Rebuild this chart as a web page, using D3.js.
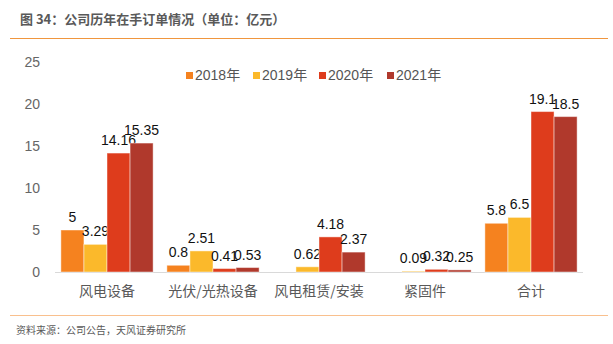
<!DOCTYPE html>
<html><head><meta charset="utf-8">
<script src="https://cdn.jsdelivr.net/npm/d3@7"></script>
<style>
body{margin:0;background:#fff;}
svg{display:block;}
</style></head>
<body>
<svg id="c" width="613" height="344"></svg>
<script>
const categories = ["风电设备","光伏/光热设备","风电租赁/安装","紧固件","合计"];
const seriesNames = ["2018年","2019年","2020年","2021年"];
const s2018 = [5, 0.8, null, null, 5.8];
const s2019 = [3.29, 2.51, 0.62, 0.09, 6.5];
const s2020 = [14.16, 0.41, 4.18, 0.32, 19.1];
const s2021 = [15.35, 0.53, 2.37, 0.25, 18.5];
const yTicks = [0,5,10,15,20,25];
const colors = ["#F5821F","#FBB92B","#DE3C1C","#B0392C"];
const title = "图 34：公司历年在手订单情况（单位：亿元）";
const source = "资料来源：公司公告，天风证券研究所";

const series = [s2018, s2019, s2020, s2021];
const svg = d3.select("#c");
const font = "Helvetica, Arial, 'Liberation Sans', 'Noto Sans CJK SC', sans-serif";

svg.append("text").attr("x",20).attr("y",24).attr("fill","#595959")
  .attr("font-family","'Noto Sans CJK SC', sans-serif").attr("font-weight","bold")
  .attr("font-size",13).text(title);
svg.append("line").attr("x1",10).attr("x2",608).attr("y1",38.5).attr("y2",38.5)
  .attr("stroke","#F0963E").attr("stroke-width",1.2);
svg.append("line").attr("x1",10).attr("x2",608).attr("y1",315.5).attr("y2",315.5)
  .attr("stroke","#F9C08E").attr("stroke-width",1.2);
svg.append("text").attr("x",16).attr("y",334).attr("fill","#595959")
  .attr("font-family","'Noto Sans CJK SC', sans-serif")
  .attr("font-size",10).text(source);

const x = d3.scaleBand().domain(categories).range([54,584]).paddingInner(0.13).paddingOuter(0.065);
const xi = d3.scaleBand().domain(seriesNames).range([0, x.bandwidth()]);
const y = d3.scaleLinear().domain([0,25]).range([272,62]);

// y tick labels
const ya = svg.append("g").attr("transform","translate(40,0)")
  .call(d3.axisLeft(y).tickValues(yTicks).tickSize(0).tickPadding(0));
ya.select(".domain").remove();
ya.selectAll("text").attr("font-family",font).attr("font-size",14).attr("fill","#666");

// axis line
svg.append("line").attr("x1",55).attr("x2",583).attr("y1",272.5).attr("y2",272.5)
  .attr("stroke","#d9d9d9").attr("stroke-width",1);

const xa = svg.append("g").attr("transform","translate(0,272)")
  .call(d3.axisBottom(x).tickSize(0).tickPadding(14));
xa.select(".domain").remove();
xa.selectAll("text").attr("font-family","'Noto Sans CJK SC', sans-serif").attr("font-size",14).attr("fill","#595959");

const groups = svg.append("g").selectAll("g").data(categories).join("g")
  .attr("transform", d => `translate(${x(d)},0)`);

groups.each(function(cat, ci){
  const g = d3.select(this);
  seriesNames.forEach((sn, si) => {
    const v = series[si][ci];
    if (v == null) return;
    g.append("rect").attr("x", xi(sn)).attr("width", xi.bandwidth())
      .attr("y", y(v)).attr("height", y(0)-y(v))
      .attr("fill", colors[si]).attr("stroke","rgba(255,255,255,0.45)").attr("stroke-width",1);
    g.append("text").attr("x", xi(sn)+xi.bandwidth()/2).attr("y", y(v)-8)
      .attr("text-anchor","middle").attr("font-family",font).attr("font-size",14)
      .attr("fill","#111").text(v);
  });
});

// legend
const legendX = [186,253,319,387];
seriesNames.forEach((sn,i)=>{
  svg.append("rect").attr("x",legendX[i]).attr("y",72).attr("width",7).attr("height",7).attr("fill",colors[i]);
  svg.append("text").attr("x",legendX[i]+9).attr("y",80).attr("font-family",font)
    .attr("font-size",14).attr("fill","#555").text(sn);
});
</script>
</body></html>
